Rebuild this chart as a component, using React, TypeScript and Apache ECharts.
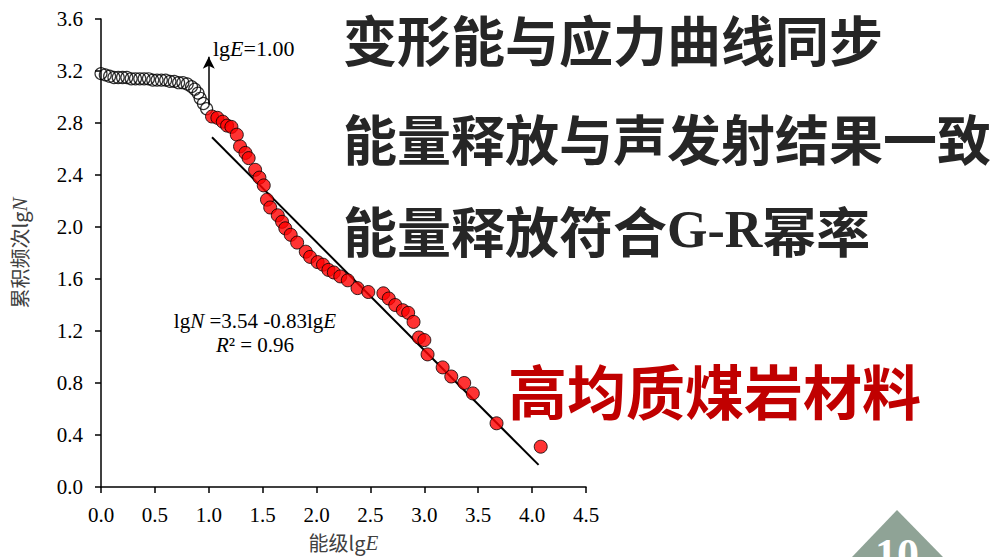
import React, { useEffect, useRef } from "react";
import * as echarts from "echarts";

const hollowX = [0.0, 0.04, 0.08, 0.12, 0.16, 0.2, 0.24, 0.28, 0.32, 0.36, 0.4, 0.44, 0.48, 0.52, 0.56, 0.6, 0.64, 0.68, 0.72, 0.76, 0.8, 0.84, 0.87, 0.9, 0.92, 0.95, 0.98];
const hollowY = [3.18, 3.17, 3.16, 3.15, 3.15, 3.15, 3.15, 3.14, 3.14, 3.14, 3.14, 3.14, 3.13, 3.13, 3.13, 3.13, 3.12, 3.12, 3.11, 3.11, 3.1, 3.08, 3.06, 3.03, 2.99, 2.95, 2.91];
const redX = [1.03, 1.08, 1.13, 1.17, 1.21, 1.26, 1.29, 1.34, 1.37, 1.43, 1.47, 1.51, 1.54, 1.57, 1.64, 1.68, 1.71, 1.76, 1.82, 1.9, 1.94, 2.01, 2.06, 2.11, 2.16, 2.22, 2.29, 2.38, 2.48, 2.62, 2.67, 2.73, 2.8, 2.85, 2.9, 2.95, 3.0, 3.03, 3.17, 3.25, 3.37, 3.45, 3.67, 4.08];
const redY = [2.85, 2.84, 2.81, 2.78, 2.77, 2.71, 2.62, 2.57, 2.53, 2.44, 2.38, 2.32, 2.21, 2.15, 2.09, 2.04, 1.99, 1.94, 1.88, 1.81, 1.77, 1.73, 1.71, 1.67, 1.65, 1.62, 1.59, 1.53, 1.5, 1.49, 1.45, 1.4, 1.36, 1.34, 1.27, 1.15, 1.13, 1.02, 0.92, 0.85, 0.8, 0.72, 0.49, 0.31];
const fitX = [1.03, 4.06];
const fitY = [2.69, 0.17];
const arrowX = [1.0, 1.0];
const arrowY = [2.94, 3.31];

const headlines = ["变形能与应力曲线同步", "能量释放与声发射结果一致"];
const redTitle = "高均质煤岩材料";

const serif = "'Liberation Serif', 'Times New Roman', serif";
const cjk = "'Noto Sans CJK SC', sans-serif";

export default function App() {
  const ref = useRef<HTMLDivElement>(null);
  useEffect(() => {
    document.body.style.margin = "0";
    const chart = echarts.init(ref.current!, null, { renderer: "svg" });
    const zip = (xs: number[], ys: number[]) => xs.map((x, i) => [x, ys[i]]);
    chart.setOption({
      animation: false,
      backgroundColor: "#ffffff",
      grid: { left: 101, top: 19, right: 404, bottom: 70, containLabel: false, outerBoundsMode: "none" },
      xAxis: {
        type: "value",
        min: 0,
        max: 4.5,
        interval: 0.5,
        name: "{a|能级lg}{i|E}",
        nameLocation: "middle",
        nameGap: 45,
        nameTextStyle: {
          rich: {
            a: { fontFamily: cjk, fontSize: 20, color: "#404040" },
            i: { fontFamily: serif, fontStyle: "italic", fontSize: 21, color: "#404040" },
          },
        },
        axisLine: { onZero: false, lineStyle: { color: "#000", width: 1.5 } },
        axisTick: { show: true, inside: false, length: 6, lineStyle: { color: "#000", width: 1.5 } },
        axisLabel: { fontFamily: serif, fontSize: 21, color: "#000", margin: 17, formatter: (v: number) => v.toFixed(1) },
        splitLine: { show: false },
      },
      yAxis: {
        type: "value",
        min: 0,
        max: 3.6,
        interval: 0.4,
        name: "{a|累积频次lg}{i|N}",
        nameLocation: "middle",
        nameRotate: 90,
        nameGap: 71,
        nameTextStyle: {
          rich: {
            a: { fontFamily: cjk, fontSize: 20, color: "#404040" },
            i: { fontFamily: serif, fontStyle: "italic", fontSize: 21, color: "#404040" },
          },
        },
        axisLine: { onZero: false, lineStyle: { color: "#000", width: 1.5 } },
        axisTick: { show: true, inside: false, length: 6, lineStyle: { color: "#000", width: 1.5 } },
        axisLabel: { fontFamily: serif, fontSize: 21, color: "#000", margin: 18, formatter: (v: number) => v.toFixed(1) },
        splitLine: { show: false },
      },
      series: [
        {
          type: "line",
          data: zip(fitX, fitY),
          symbol: "none",
          lineStyle: { color: "#000", width: 2 },
          z: 1,
          markLine: {
            silent: true,
            symbol: ["none", "arrow"],
            symbolSize: [9, 12],
            label: { show: false },
            lineStyle: { color: "#000", width: 1.5, type: "solid" },
            data: [[{ coord: [arrowX[0], arrowY[0]] }, { coord: [arrowX[1], arrowY[1]] }]],
          },
        },
        {
          type: "scatter",
          data: zip(hollowX, hollowY),
          symbol: "circle",
          symbolSize: 12,
          itemStyle: { color: "rgba(255,255,255,0)", borderColor: "#000", borderWidth: 1.2 },
          z: 3,
        },
        {
          type: "scatter",
          data: zip(redX, redY),
          symbol: "circle",
          symbolSize: 13,
          itemStyle: { color: "#ff0000", borderColor: "#000", borderWidth: 1 },
          z: 4,
        },
      ],
      graphic: [
        {
          type: "text",
          left: 213,
          top: 37,
          style: {
            text: "lg{i|E}=1.00",
            fontFamily: serif,
            fontSize: 22,
            fill: "#000",
            rich: { i: { fontFamily: serif, fontStyle: "italic", fontSize: 22, fill: "#000" } },
          },
        },
        {
          type: "text",
          x: 255,
          y: 321,
          style: {
            text: "lg{i|N} =3.54 -0.83lg{i|E}",
            fontFamily: serif,
            fontSize: 21,
            lineHeight: 21,
            fill: "#000",
            align: "center",
            verticalAlign: "middle",
            rich: { i: { fontFamily: serif, fontStyle: "italic", fontSize: 21, lineHeight: 21, fill: "#000" } },
          },
        },
        {
          type: "text",
          x: 255,
          y: 345,
          style: {
            text: "{i|R}² = 0.96",
            fontFamily: serif,
            fontSize: 21,
            lineHeight: 21,
            fill: "#000",
            align: "center",
            verticalAlign: "middle",
            rich: { i: { fontFamily: serif, fontStyle: "italic", fontSize: 21, lineHeight: 21, fill: "#000" } },
          },
        },
        {
          type: "text",
          x: 343,
          y: 38,
          style: { text: headlines[0], fontFamily: cjk, fontWeight: "bold", fontSize: 54, fill: "#262626", verticalAlign: "middle" },
        },
        {
          type: "text",
          x: 343,
          y: 137,
          style: { text: headlines[1], fontFamily: cjk, fontWeight: "bold", fontSize: 54, fill: "#262626", verticalAlign: "middle" },
        },
        {
          type: "text",
          x: 343,
          y: 229,
          style: {
            text: "{c|能量释放符合}{l|G-R}{c|幂率}",
            verticalAlign: "middle",
            rich: {
              c: { fontFamily: cjk, fontWeight: "bold", fontSize: 54, fill: "#262626" },
              l: { fontFamily: serif, fontWeight: "bold", fontSize: 52, fill: "#262626" },
            },
          },
        },
        {
          type: "text",
          x: 508,
          y: 389,
          style: { text: redTitle, fontFamily: cjk, fontWeight: "bold", fontSize: 59, fill: "#c00000", verticalAlign: "middle" },
        },
        {
          type: "polygon",
          shape: { points: [[852, 557], [897, 510], [943, 557]] },
          style: { fill: "#8fa396" },
        },
        {
          type: "text",
          x: 897,
          y: 532,
          style: { text: "10", fontFamily: serif, fontWeight: "bold", fontSize: 44, fill: "#ffffff", align: "center", verticalAlign: "top" },
        },
      ],
    });
    return () => chart.dispose();
  }, []);
  return <div ref={ref} style={{ width: 990, height: 557 }} />;
}
